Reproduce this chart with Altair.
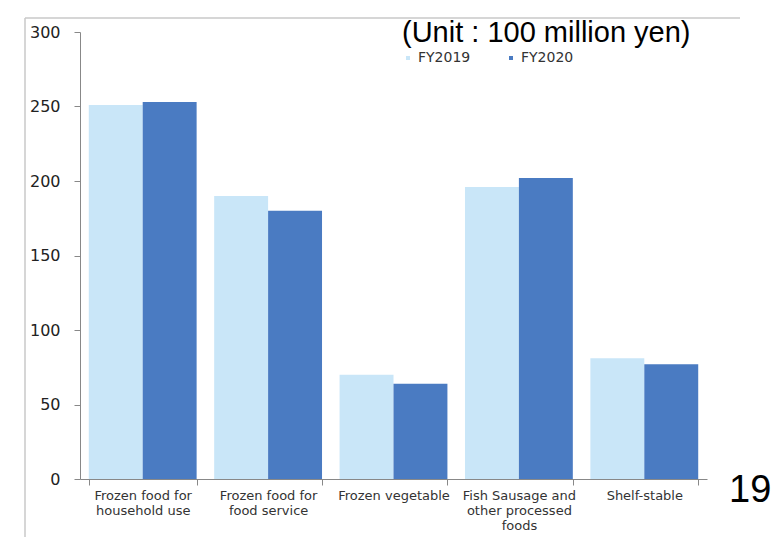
import altair as alt
import pandas as pd

# ---- data ----
categories = [
    "Frozen food for|household use",
    "Frozen food for|food service",
    "Frozen vegetable",
    "Fish Sausage and|other processed|foods",
    "Shelf-stable",
]
fy2019 = [251, 190, 70, 196, 81]
fy2020 = [253, 180, 64, 202, 77]
series = ["FY2019", "FY2020"]
series_colors = ["#C9E6F8", "#4A7BC2"]
y_ticks = [0, 50, 100, 150, 200, 250, 300]
unit_text = ["(Unit : 100 million yen)"]
page_number = ["19"]

rows = []
for c, a, b in zip(categories, fy2019, fy2020):
    rows.append({"category": c, "series": series[0], "value": a})
    rows.append({"category": c, "series": series[1], "value": b})
df = pd.DataFrame(rows)

LABEL_FONT = "DejaVu Sans"

bars = alt.Chart(df).mark_bar().encode(
    x=alt.X(
        "category:N",
        sort=categories,
        title=None,
        scale=alt.Scale(paddingInner=0.14, paddingOuter=0.07),
        axis=alt.Axis(
            labelAngle=0,
            labelExpr="split(datum.label, '|')",
            labelFont=LABEL_FONT,
            labelFontSize=13,
            labelLineHeight=15,
            labelColor="#333333",
            labelPadding=4,
            tickBand="extent",
            tickSize=6,
            tickColor="#888888",
            domainColor="#888888",
            labelBaseline="top",
        ),
    ),
    xOffset=alt.XOffset("series:N", sort=series, scale=alt.Scale(paddingInner=0, paddingOuter=0)),
    y=alt.Y(
        "value:Q",
        title=None,
        scale=alt.Scale(domain=[0, 300], nice=False),
        axis=alt.Axis(
            values=y_ticks,
            grid=False,
            labelFont=LABEL_FONT,
            labelFontSize=16,
            labelColor="#222222",
            labelPadding=14,
            tickSize=6,
            tickColor="#888888",
            domainColor="#888888",
        ),
    ),
    color=alt.Color(
        "series:N",
        sort=series,
        scale=alt.Scale(domain=series, range=series_colors),
        legend=alt.Legend(
            title=None,
            orient="none",
            direction="horizontal",
            legendX=321,
            legendY=19,
            symbolType="square",
            symbolSize=16,
            labelFont=LABEL_FONT,
            labelFontSize=14,
            labelColor="#333333",
            labelOffset=3,
            columnPadding=33,
            padding=0,
        ),
    ),
)

unit = alt.Chart(pd.DataFrame({"t": unit_text})).mark_text(
    font="Liberation Sans", fontSize=29, align="left", baseline="alphabetic", color="#000000"
).encode(text="t:N", x=alt.value(322), y=alt.value(10))

page = alt.Chart(pd.DataFrame({"t": page_number})).mark_text(
    font="Liberation Sans", fontSize=38, align="left", baseline="alphabetic", color="#000000"
).encode(text="t:N", x=alt.value(649), y=alt.value(470))

frame_left = alt.Chart(pd.DataFrame({"k": [0]})).mark_rule(color="#c8c8c8", strokeWidth=1.5).encode(
    x=alt.value(-55), y=alt.value(-14), y2=alt.value(505)
)
frame_top = alt.Chart(pd.DataFrame({"k": [0]})).mark_rule(color="#c8c8c8", strokeWidth=1.5).encode(
    x=alt.value(-55), x2=alt.value(660), y=alt.value(-14)
)

chart = alt.layer(frame_left, frame_top, bars, unit, page).properties(
    width=627,
    height=447,
    autosize=alt.AutoSizeParams(type="none"),
    padding={"left": 80, "top": 32, "right": 74, "bottom": 62},
    background="white",
).configure_view(stroke=None)

chart.save("out.html", embed_options={"renderer": "svg", "actions": False})
